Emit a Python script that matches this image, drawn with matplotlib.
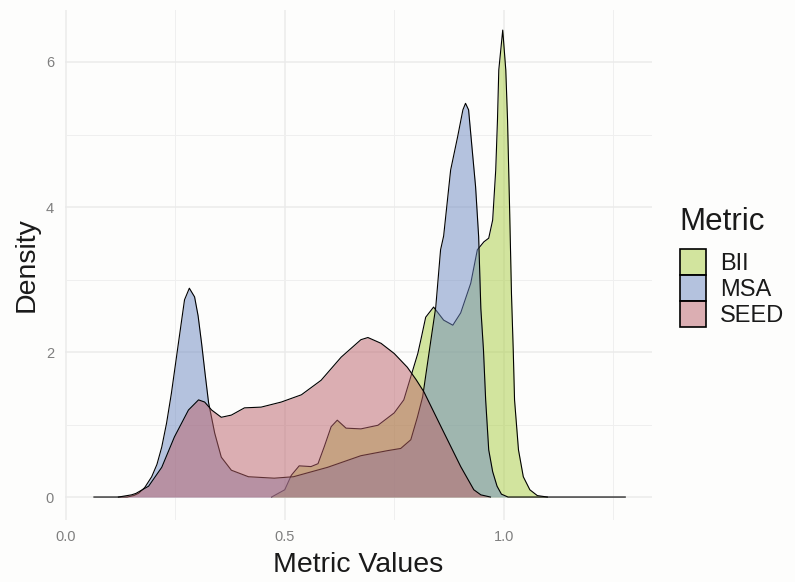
import matplotlib.pyplot as plt
from matplotlib.colors import to_rgb
from matplotlib.patches import Patch
from matplotlib.ticker import MultipleLocator

plt.rcParams['font.family'] = ['Liberation Sans', 'DejaVu Sans']

metrics = ['BII', 'MSA', 'SEED']
fill_colors = ['#a9cd41', '#6d89c1', '#bb6169']

# density curves
bii_x = [0.47, 0.50, 0.515, 0.533, 0.56, 0.576, 0.59, 0.606, 0.62, 0.64, 0.674, 0.713,
         0.75, 0.772, 0.788, 0.804, 0.811, 0.822, 0.84, 0.863, 0.884, 0.902, 0.925,
         0.94, 0.955, 0.966, 0.975, 0.982, 0.986, 0.989, 0.998, 1.005, 1.009, 1.014,
         1.018, 1.022, 1.025, 1.034, 1.045, 1.06, 1.077, 1.10]
bii_y = [0.0, 0.1, 0.30, 0.43, 0.42, 0.46, 0.69, 0.97, 1.06, 0.95, 0.94, 0.99,
         1.16, 1.34, 1.66, 1.98, 2.17, 2.48, 2.62, 2.44, 2.37, 2.54, 2.95,
         3.41, 3.52, 3.57, 3.82, 4.51, 5.2, 5.89, 6.44, 5.89, 5.2, 3.9,
         2.8, 2.03, 1.34, 0.65, 0.28, 0.1, 0.02, 0.0]

msa_x = [0.064, 0.14, 0.155, 0.166, 0.18, 0.196, 0.208, 0.219, 0.23, 0.241, 0.257,
         0.271, 0.282, 0.294, 0.302, 0.31, 0.318, 0.326, 0.34, 0.355, 0.378, 0.417,
         0.476, 0.52, 0.598, 0.674, 0.735, 0.765, 0.788, 0.803, 0.815, 0.834, 0.845,
         0.856, 0.863, 0.879, 0.895, 0.907, 0.913, 0.92, 0.929, 0.936, 0.943, 0.948,
         0.954, 0.959, 0.966, 0.975, 0.985, 0.995, 1.01, 1.278]
msa_y = [0.0, 0.0, 0.02, 0.05, 0.13, 0.28, 0.45, 0.69, 1.02, 1.43, 2.12,
         2.72, 2.88, 2.76, 2.5, 2.12, 1.7, 1.30, 0.88, 0.55, 0.37, 0.28,
         0.26, 0.28, 0.41, 0.57, 0.64, 0.67, 0.79, 1.1, 1.38, 2.17, 2.62,
         3.41, 3.6, 4.51, 4.97, 5.34, 5.43, 5.34, 4.74, 4.28, 3.59, 2.6,
         2.03, 1.34, 0.65, 0.35, 0.15, 0.04, 0.0, 0.0]

seed_x = [0.12, 0.15, 0.16, 0.189, 0.219, 0.248, 0.28, 0.303, 0.317, 0.333, 0.355,
          0.378, 0.408, 0.446, 0.492, 0.538, 0.583, 0.629, 0.674, 0.69, 0.72, 0.75,
          0.78, 0.80, 0.818, 0.857, 0.902, 0.932, 0.948, 0.97]
seed_y = [0.0, 0.03, 0.05, 0.15, 0.41, 0.83, 1.2, 1.34, 1.31, 1.2, 1.1,
          1.13, 1.23, 1.24, 1.31, 1.41, 1.61, 1.93, 2.17, 2.2, 2.12, 1.98,
          1.79, 1.62, 1.45, 0.97, 0.42, 0.1, 0.03, 0.0]

bg = '#fdfdfc'
fig = plt.figure(figsize=(7.95, 5.82), dpi=100, facecolor=bg)
ax = fig.add_axes([0.0818, 0.1065, 0.7383, 0.8763])
ax.set_facecolor(bg)

curves = [(bii_x, bii_y), (msa_x, msa_y), (seed_x, seed_y)]
for i, ((xs, ys), col) in enumerate(zip(curves, fill_colors)):
    ax.fill_between(xs, ys, 0, color=col, alpha=0.5, lw=0, zorder=2 + 2 * i)
    ax.plot(xs, ys, color='black', lw=0.8, zorder=3 + 2 * i)

ax.set_xlim(-0.002, 1.339)
ax.set_ylim(-0.317, 6.717)
ax.xaxis.set_major_locator(MultipleLocator(0.5))
ax.xaxis.set_minor_locator(MultipleLocator(0.25))
ax.yaxis.set_major_locator(MultipleLocator(2))
ax.yaxis.set_minor_locator(MultipleLocator(1))
ax.xaxis.set_major_formatter(lambda v, p: f'{v:.1f}')
ax.yaxis.set_major_formatter(lambda v, p: f'{v:.0f}')
ax.grid(which='major', color='#ebebeb', lw=1.1, zorder=0)
ax.grid(which='minor', color='#efefef', lw=0.7, zorder=0)
ax.set_axisbelow(True)
for s in ax.spines.values():
    s.set_visible(False)
ax.tick_params(which='both', length=0)
ax.tick_params(axis='x', pad=7, labelsize=10.5, labelcolor='#7f7f7f')
ax.tick_params(axis='y', pad=8, labelsize=10.5, labelcolor='#7f7f7f')

ax.set_xlabel('Metric Values', fontsize=20.5, color='#1a1a1a', labelpad=6)
ax.set_ylabel('Density', fontsize=20.5, color='#1a1a1a', labelpad=4)

handles = [Patch(facecolor=(*to_rgb(c), 0.5), edgecolor='black', lw=1.2)
           for c in fill_colors]
leg = fig.legend(handles, metrics, loc='upper left', bbox_to_anchor=(0.84, 0.665),
                 frameon=False, fontsize=17, title='Metric', title_fontsize=22.5,
                 handlelength=1.1, handleheight=1.3, handletextpad=0.6,
                 labelspacing=0.0, borderpad=0, alignment='left')
leg._legend_box.sep = 9  # gap between title and keys
leg.get_title().set_color('#1a1a1a')
for t in leg.get_texts():
    t.set_color('#1a1a1a')

fig.savefig('out.png', dpi=100, facecolor=bg)
